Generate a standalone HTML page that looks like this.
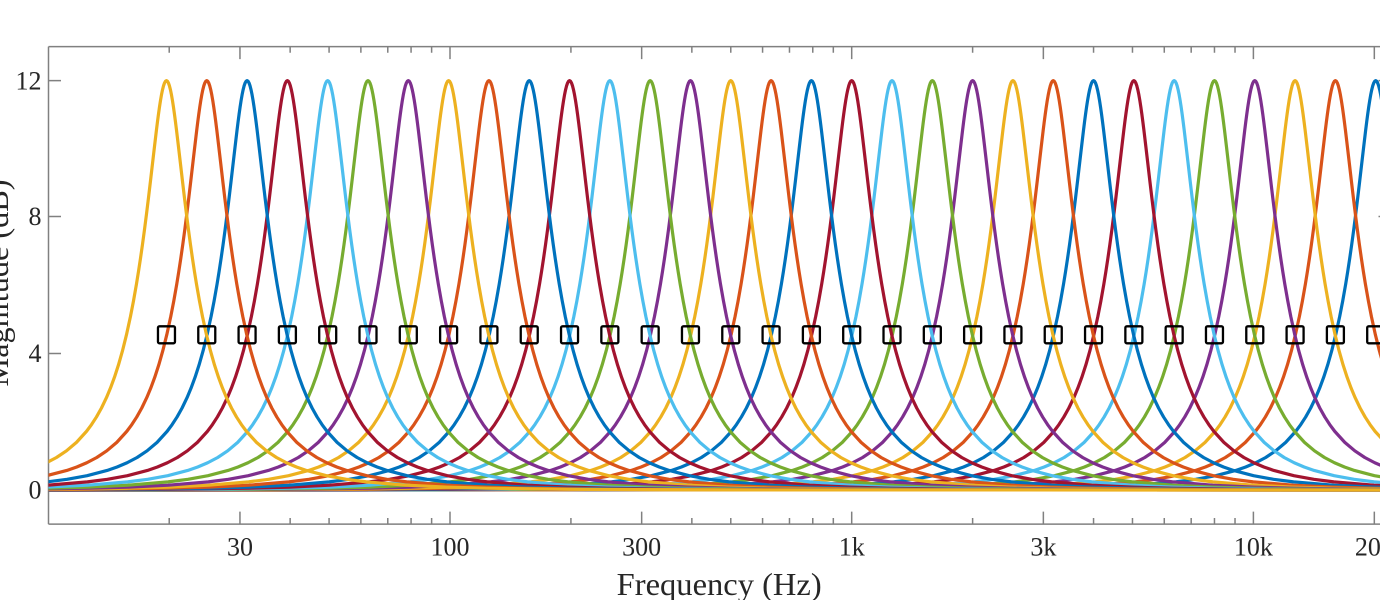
<!DOCTYPE html>
<html>
<head>
<meta charset="utf-8">
<style>
html,body{margin:0;padding:0;background:#fff;}
svg{display:block;}
text{font-family:"Liberation Serif",serif;fill:#262626;}
</style>
</head>
<body>
<svg width="1380" height="600" viewBox="0 0 1380 600" xmlns="http://www.w3.org/2000/svg" xmlns:xlink="http://www.w3.org/1999/xlink">
<defs>
<clipPath id="ax"><rect x="48.5" y="46.6" width="1342.5" height="477.5"/></clipPath>
<path id="c" fill="none" d="M-1400,490 L-600,489.93 -500,489.78 -400,489.3 -320,488.21 -280,487.1 -240,485.21 -200,481.88 -180,479.28 -160,475.66 -140,470.46 -130,467 -120,462.75 -110,457.48 -100,450.84 -90,442.36 -80,431.39 -75,424.67 -70,416.94 -65,408 -60,397.6 -56,388.05 -52,377.21 -48,364.88 -44,350.83 -40,334.8 -36,316.47 -33,301.01 -30,283.97 -28,271.63 -26,258.5 -24,244.55 -22,229.78 -20,214.22 -18,197.95 -16,181.09 -14,163.87 -12,146.63 -10,129.86 -9,121.86 -8,114.25 -7,107.13 -6,100.63 -5,94.84 -4,89.93 -3,85.96 -2,83.07 -1,81.28 0,80.68 1,81.28 2,83.07 3,85.96 4,89.93 5,94.84 6,100.63 7,107.13 8,114.25 9,121.86 10,129.86 12,146.63 14,163.87 16,181.09 18,197.95 20,214.22 22,229.78 24,244.55 26,258.5 28,271.63 30,283.97 33,301.01 36,316.47 40,334.8 44,350.83 48,364.88 52,377.21 56,388.05 60,397.6 65,408 70,416.94 75,424.67 80,431.39 90,442.36 100,450.84 110,457.48 120,462.75 130,467 140,470.46 160,475.66 180,479.28 200,481.88 240,485.21 280,487.1 320,488.21 400,489.3 500,489.78 600,489.93 1400,490"/>
</defs>

<!-- axes box -->
<g stroke="#808080" stroke-width="1.5" fill="none">
<path d="M48.5,46.6 H1391 M48.5,524.1 H1391 M48.5,46.6 V524.1 M1391,46.6 V524.1"/>
<path d="M239.96,524.1 V511.6 M450,524.1 V511.6 M641.66,524.1 V511.6 M851.7,524.1 V511.6 M1043.36,524.1 V511.6 M1253.4,524.1 V511.6 M1374.32,524.1 V511.6
M239.96,46.6 V59.1 M450,46.6 V59.1 M641.66,46.6 V59.1 M851.7,46.6 V59.1 M1043.36,46.6 V59.1 M1253.4,46.6 V59.1 M1374.32,46.6 V59.1"/>
<path d="M169.22,524.1 V518 M290.15,524.1 V518 M329.08,524.1 V518 M360.88,524.1 V518 M387.78,524.1 V518 M411.07,524.1 V518 M431.62,524.1 V518
M570.92,524.1 V518 M691.85,524.1 V518 M730.78,524.1 V518 M762.58,524.1 V518 M789.48,524.1 V518 M812.77,524.1 V518 M833.32,524.1 V518
M972.62,524.1 V518 M1093.55,524.1 V518 M1132.48,524.1 V518 M1164.28,524.1 V518 M1191.18,524.1 V518 M1214.47,524.1 V518 M1235.02,524.1 V518
M169.22,46.6 V52.7 M290.15,46.6 V52.7 M329.08,46.6 V52.7 M360.88,46.6 V52.7 M387.78,46.6 V52.7 M411.07,46.6 V52.7 M431.62,46.6 V52.7
M570.92,46.6 V52.7 M691.85,46.6 V52.7 M730.78,46.6 V52.7 M762.58,46.6 V52.7 M789.48,46.6 V52.7 M812.77,46.6 V52.7 M833.32,46.6 V52.7
M972.62,46.6 V52.7 M1093.55,46.6 V52.7 M1132.48,46.6 V52.7 M1164.28,46.6 V52.7 M1191.18,46.6 V52.7 M1214.47,46.6 V52.7 M1235.02,46.6 V52.7"/>
<path d="M48.5,80.68 H61 M48.5,216.56 H61 M48.5,353.56 H61 M48.5,490 H61
M1391,80.68 H1378.5 M1391,216.56 H1378.5 M1391,353.56 H1378.5 M1391,490 H1378.5"/>
</g>

<!-- curves -->
<g clip-path="url(#ax)" stroke-width="3.2" stroke-linejoin="round" stroke-linecap="round" fill="none">
<use href="#c" xlink:href="#c" x="1375.70" stroke="#0072BD"/>
<use href="#c" xlink:href="#c" x="1335.39" stroke="#D95319"/>
<use href="#c" xlink:href="#c" x="1295.09" stroke="#EDB120"/>
<use href="#c" xlink:href="#c" x="1254.78" stroke="#7E2F8E"/>
<use href="#c" xlink:href="#c" x="1214.47" stroke="#77AC30"/>
<use href="#c" xlink:href="#c" x="1174.16" stroke="#4DBEEE"/>
<use href="#c" xlink:href="#c" x="1133.86" stroke="#A2142F"/>
<use href="#c" xlink:href="#c" x="1093.55" stroke="#0072BD"/>
<use href="#c" xlink:href="#c" x="1053.24" stroke="#D95319"/>
<use href="#c" xlink:href="#c" x="1012.93" stroke="#EDB120"/>
<use href="#c" xlink:href="#c" x="972.62" stroke="#7E2F8E"/>
<use href="#c" xlink:href="#c" x="932.32" stroke="#77AC30"/>
<use href="#c" xlink:href="#c" x="892.01" stroke="#4DBEEE"/>
<use href="#c" xlink:href="#c" x="851.70" stroke="#A2142F"/>
<use href="#c" xlink:href="#c" x="811.39" stroke="#0072BD"/>
<use href="#c" xlink:href="#c" x="771.08" stroke="#D95319"/>
<use href="#c" xlink:href="#c" x="730.78" stroke="#EDB120"/>
<use href="#c" xlink:href="#c" x="690.47" stroke="#7E2F8E"/>
<use href="#c" xlink:href="#c" x="650.16" stroke="#77AC30"/>
<use href="#c" xlink:href="#c" x="609.85" stroke="#4DBEEE"/>
<use href="#c" xlink:href="#c" x="569.54" stroke="#A2142F"/>
<use href="#c" xlink:href="#c" x="529.24" stroke="#0072BD"/>
<use href="#c" xlink:href="#c" x="488.93" stroke="#D95319"/>
<use href="#c" xlink:href="#c" x="448.62" stroke="#EDB120"/>
<use href="#c" xlink:href="#c" x="408.31" stroke="#7E2F8E"/>
<use href="#c" xlink:href="#c" x="368.00" stroke="#77AC30"/>
<use href="#c" xlink:href="#c" x="327.70" stroke="#4DBEEE"/>
<use href="#c" xlink:href="#c" x="287.39" stroke="#A2142F"/>
<use href="#c" xlink:href="#c" x="247.08" stroke="#0072BD"/>
<use href="#c" xlink:href="#c" x="206.77" stroke="#D95319"/>
<use href="#c" xlink:href="#c" x="166.47" stroke="#EDB120"/>
</g>

<!-- markers -->
<g fill="none" stroke="#000" stroke-width="2.3">
<rect x="157.97" y="326.3" width="17" height="17" rx="1.5"/>
<rect x="198.27" y="326.3" width="17" height="17" rx="1.5"/>
<rect x="238.58" y="326.3" width="17" height="17" rx="1.5"/>
<rect x="278.89" y="326.3" width="17" height="17" rx="1.5"/>
<rect x="319.20" y="326.3" width="17" height="17" rx="1.5"/>
<rect x="359.50" y="326.3" width="17" height="17" rx="1.5"/>
<rect x="399.81" y="326.3" width="17" height="17" rx="1.5"/>
<rect x="440.12" y="326.3" width="17" height="17" rx="1.5"/>
<rect x="480.43" y="326.3" width="17" height="17" rx="1.5"/>
<rect x="520.74" y="326.3" width="17" height="17" rx="1.5"/>
<rect x="561.04" y="326.3" width="17" height="17" rx="1.5"/>
<rect x="601.35" y="326.3" width="17" height="17" rx="1.5"/>
<rect x="641.66" y="326.3" width="17" height="17" rx="1.5"/>
<rect x="681.97" y="326.3" width="17" height="17" rx="1.5"/>
<rect x="722.28" y="326.3" width="17" height="17" rx="1.5"/>
<rect x="762.58" y="326.3" width="17" height="17" rx="1.5"/>
<rect x="802.89" y="326.3" width="17" height="17" rx="1.5"/>
<rect x="843.20" y="326.3" width="17" height="17" rx="1.5"/>
<rect x="883.51" y="326.3" width="17" height="17" rx="1.5"/>
<rect x="923.82" y="326.3" width="17" height="17" rx="1.5"/>
<rect x="964.12" y="326.3" width="17" height="17" rx="1.5"/>
<rect x="1004.43" y="326.3" width="17" height="17" rx="1.5"/>
<rect x="1044.74" y="326.3" width="17" height="17" rx="1.5"/>
<rect x="1085.05" y="326.3" width="17" height="17" rx="1.5"/>
<rect x="1125.36" y="326.3" width="17" height="17" rx="1.5"/>
<rect x="1165.66" y="326.3" width="17" height="17" rx="1.5"/>
<rect x="1205.97" y="326.3" width="17" height="17" rx="1.5"/>
<rect x="1246.28" y="326.3" width="17" height="17" rx="1.5"/>
<rect x="1286.59" y="326.3" width="17" height="17" rx="1.5"/>
<rect x="1326.89" y="326.3" width="17" height="17" rx="1.5"/>
<rect x="1367.20" y="326.3" width="17" height="17" rx="1.5"/>
</g>

<!-- y tick labels -->
<g font-size="26" text-anchor="end">
<text x="41.5" y="89.3">12</text>
<text x="41.5" y="225.2">8</text>
<text x="41.5" y="362.2">4</text>
<text x="41.5" y="498.7">0</text>
</g>

<!-- x tick labels -->
<g font-size="26" text-anchor="middle">
<text x="239.96" y="555.5">30</text>
<text x="450" y="555.5">100</text>
<text x="641.66" y="555.5">300</text>
<text x="851.7" y="555.5">1k</text>
<text x="1043.36" y="555.5">3k</text>
<text x="1253.4" y="555.5">10k</text>
<text x="1374.32" y="555.5">20k</text>
</g>

<!-- axis labels -->
<text x="719.2" y="595" font-size="32" text-anchor="middle" textLength="205" lengthAdjust="spacingAndGlyphs">Frequency (Hz)</text>
<text transform="translate(8,283) rotate(-90)" x="0" y="0" font-size="32" text-anchor="middle" textLength="207" lengthAdjust="spacingAndGlyphs">Magnitude (dB)</text>
</svg>
</body>
</html>
